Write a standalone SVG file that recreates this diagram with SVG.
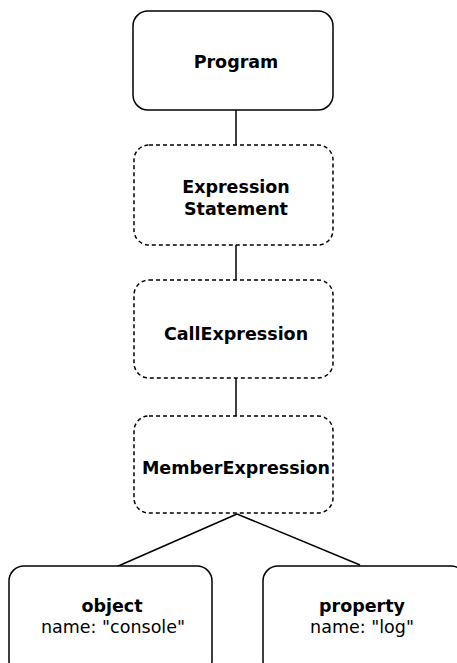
<svg xmlns="http://www.w3.org/2000/svg" width="457" height="663" viewBox="0 0 457 663">
<style>
.box{fill:#fff;stroke:#000;stroke-width:1.5}
.dash{stroke-dasharray:4 3}
.t{font-family:"DejaVu Sans",Verdana,sans-serif;font-size:17.5px;font-weight:bold;text-anchor:middle;fill:#000}
.n{font-family:"DejaVu Sans",Verdana,sans-serif;font-size:17.5px;text-anchor:middle;fill:#000}
.c{stroke:#000;stroke-width:1.5;fill:none}
</style>
<rect width="457" height="663" fill="#fff"/>
<g id="connectors">
<line class="c" x1="236" y1="110" x2="236" y2="145"/>
<line class="c" x1="236" y1="245" x2="236" y2="280"/>
<line class="c" x1="236" y1="378" x2="236" y2="416"/>
<line class="c" x1="237" y1="514" x2="116" y2="567"/>
<line class="c" x1="237" y1="514" x2="360" y2="565"/>
</g>
<g id="program">
<rect class="box" x="133" y="11" width="200" height="99" rx="15"/>
<text class="t" x="236" y="68">Program</text>
</g>
<g id="expressionStatement">
<rect class="box dash" x="134" y="145" width="199" height="100" rx="15"/>
<text class="t" x="236" y="193">Expression</text>
<text class="t" x="236" y="215">Statement</text>
</g>
<g id="callExpression">
<rect class="box dash" x="134" y="280" width="199" height="98" rx="15"/>
<text class="t" x="236" y="340">CallExpression</text>
</g>
<g id="memberExpression">
<rect class="box dash" x="134" y="416" width="199" height="97" rx="15"/>
<text class="t" x="236" y="474">MemberExpression</text>
</g>
<g id="object">
<rect class="box" x="9" y="566" width="203" height="110" rx="15"/>
<text class="t" x="112" y="612">object</text>
<text class="n" x="113" y="633">name: "console"</text>
</g>
<g id="property">
<rect class="box" x="263" y="566" width="203" height="110" rx="15"/>
<text class="t" x="362" y="612">property</text>
<text class="n" x="362" y="633">name: "log"</text>
</g>
</svg>
